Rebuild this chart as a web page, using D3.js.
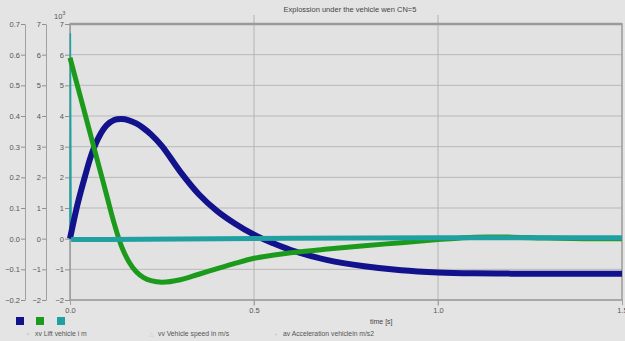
<!DOCTYPE html>
<html>
<head>
<meta charset="utf-8">
<script src="https://cdn.jsdelivr.net/npm/d3@7.9.0/dist/d3.min.js"></script>
<style>
  html, body { margin: 0; padding: 0; background: #e4e4e4; }
  svg { display: block; font-family: "Liberation Sans", Arial, sans-serif; }
</style>
</head>
<body>
<svg id="chart" width="625" height="341"></svg>
<script>
// time [s] shared by lift and speed
const time = [0, 0.02, 0.04, 0.06, 0.08, 0.10, 0.12, 0.14, 0.16, 0.18, 0.20, 0.22, 0.25, 0.30, 0.35,
  0.40, 0.45, 0.50, 0.55, 0.60, 0.70, 0.80, 0.90, 1.00, 1.10, 1.20, 1.30, 1.40, 1.50];
const lift = [0, 1.1, 2.0, 2.8, 3.35, 3.7, 3.87, 3.9, 3.86, 3.76, 3.6, 3.4, 3.02, 2.18, 1.45,
  0.9, 0.48, 0.13, -0.14, -0.37, -0.7, -0.9, -1.03, -1.1, -1.13, -1.14, -1.14, -1.14, -1.14];
const speed = [5.9, 5.0, 4.1, 3.2, 2.3, 1.4, 0.5, -0.25, -0.75, -1.08, -1.27, -1.37, -1.42, -1.34, -1.16,
  -0.98, -0.8, -0.64, -0.54, -0.46, -0.34, -0.23, -0.13, -0.03, 0.05, 0.05, 0.02, 0, 0];
const accTime = [0, 0.001, 0.003, 0.1, 0.3, 0.6, 1.0, 1.5];
const accel = [0, 6.7, -0.03, -0.03, -0.01, 0.01, 0.03, 0.03];

const yTicksA = [0.7, 0.6, 0.5, 0.4, 0.3, 0.2, 0.1, 0.0, -0.1, -0.2];
const yTicksB = [7, 6, 5, 4, 3, 2, 1, 0, -1, -2];
const xTicks = [0, 0.5, 1.0, 1.5];

const title = "Explossion under the vehicle wen CN=5";
const seriesNames = ["xv Lift vehicle i m", "vv Vehicle speed in m/s", "av Acceleration vehiclein m/s2"];
const colors = ["#12128c", "#1c9a1c", "#20a0a0"];

const svg = d3.select("#chart");
const mLeft = 70, mRight = 622, mTop = 24, mBottom = 300;

const x = d3.scaleLinear().domain([0, 1.5]).range([mLeft, mRight]);
const y = d3.scaleLinear().domain([-2, 7]).range([mBottom, mTop]);
const yA = d3.scaleLinear().domain([-0.2, 0.7]).range([mBottom, mTop]);

// plot background
svg.append("rect").attr("x", mLeft).attr("y", mTop).attr("width", mRight - mLeft)
  .attr("height", mBottom - mTop).attr("fill", "#e2e2e2");

// grid
svg.append("g").selectAll("line").data(yTicksB).join("line")
  .attr("x1", mLeft).attr("x2", mRight)
  .attr("y1", d => y(d)).attr("y2", d => y(d))
  .attr("stroke", "#b8b8b8").attr("stroke-width", 1);
svg.append("g").selectAll("line").data([0.5, 1.0]).join("line")
  .attr("x1", d => x(d)).attr("x2", d => x(d))
  .attr("y1", 15).attr("y2", mBottom + 6)
  .attr("stroke", "#b4b4b4").attr("stroke-width", 1);

// border
svg.append("rect").attr("x", mLeft).attr("y", mTop).attr("width", mRight - mLeft)
  .attr("height", mBottom - mTop).attr("fill", "none")
  .attr("stroke", "#9a9a9a").attr("stroke-width", 1.5);
svg.append("line").attr("x1", mLeft).attr("x2", mRight).attr("y1", mTop).attr("y2", mTop)
  .attr("stroke", "#9a9a9a").attr("stroke-width", 2.5);

// left axes
function styleAxis(g) {
  g.select(".domain").attr("stroke", "#a0a0a0");
  g.selectAll(".tick line").attr("stroke", "#909090");
  g.selectAll(".tick text").attr("fill", "#555").attr("font-size", 7.5);
}
svg.append("g").attr("transform", `translate(25,0)`)
  .call(d3.axisLeft(yA).tickValues(yTicksA).tickFormat(d3.format(".1f")).tickSize(4).tickSizeOuter(0).tickPadding(1))
  .call(styleAxis);
svg.append("g").attr("transform", `translate(46,0)`)
  .call(d3.axisLeft(y).tickValues(yTicksB).tickFormat(d3.format("d")).tickSize(4).tickSizeOuter(0).tickPadding(1))
  .call(styleAxis);
svg.append("g").attr("transform", `translate(${mLeft},0)`)
  .call(d3.axisLeft(y).tickValues(yTicksB).tickFormat(d3.format("d")).tickSize(5).tickSizeOuter(0).tickPadding(1))
  .call(styleAxis);
const exp = svg.append("text").attr("x", 54).attr("y", 19).attr("fill", "#555").attr("font-size", 7.5);
exp.append("tspan").text("10");
exp.append("tspan").attr("dy", -4).attr("font-size", 5.5).text("3");

// x axis
const xa = svg.append("g").attr("transform", `translate(0,${mBottom})`)
  .call(d3.axisBottom(x).tickValues(xTicks).tickFormat(d3.format(".1f")).tickSize(5).tickSizeOuter(0).tickPadding(3));
xa.select(".domain").remove();
xa.selectAll(".tick line").attr("stroke", "#a0a0a0");
xa.selectAll(".tick text").attr("fill", "#555").attr("font-size", 7.5);
svg.append("text").attr("x", 370).attr("y", 324).attr("fill", "#444")
  .attr("font-size", 7).text("time [s]");

// title
svg.append("text").attr("x", 350).attr("y", 12).attr("text-anchor", "middle")
  .attr("fill", "#444").attr("font-size", 7.5).text(title);

// curves
const plot = svg.append("g");
const line = d3.line().x(d => x(d[0])).y(d => y(d[1])).curve(d3.curveCatmullRom.alpha(0.5));
const accPts = d3.zip(accTime, accel);
plot.append("path").attr("d", d3.line().x(d => x(d[0])).y(d => y(d[1]))(accPts.slice(0, 3)))
  .attr("fill", "none").attr("stroke", colors[2]).attr("stroke-width", 1.5);
plot.append("path").attr("d", line(d3.zip(time, lift)))
  .attr("fill", "none").attr("stroke", colors[0]).attr("stroke-width", 6);
plot.append("path").attr("d", line(d3.zip(time, speed)))
  .attr("fill", "none").attr("stroke", colors[1]).attr("stroke-width", 5);
plot.append("path").attr("d", line(accPts.slice(2)))
  .attr("fill", "none").attr("stroke", colors[2]).attr("stroke-width", 5);

// legend
const swatchX = [16, 36, 57];
svg.append("g").selectAll("rect").data(colors).join("rect")
  .attr("x", (d, i) => swatchX[i]).attr("y", 317).attr("width", 8).attr("height", 8)
  .attr("fill", d => d);
const legX = [35, 158, 283];
const marks = ["×", "△", "+"];
const leg = svg.append("g").selectAll("g").data(seriesNames).join("g");
leg.append("text").attr("x", (d, i) => legX[i] - 9).attr("y", 336)
  .attr("fill", "#c4c4c4").attr("font-size", 6).text((d, i) => marks[i]);
leg.append("text").attr("x", (d, i) => legX[i]).attr("y", 336)
  .attr("fill", "#555").attr("font-size", 6.8).text(d => d);
</script>
</body>
</html>
